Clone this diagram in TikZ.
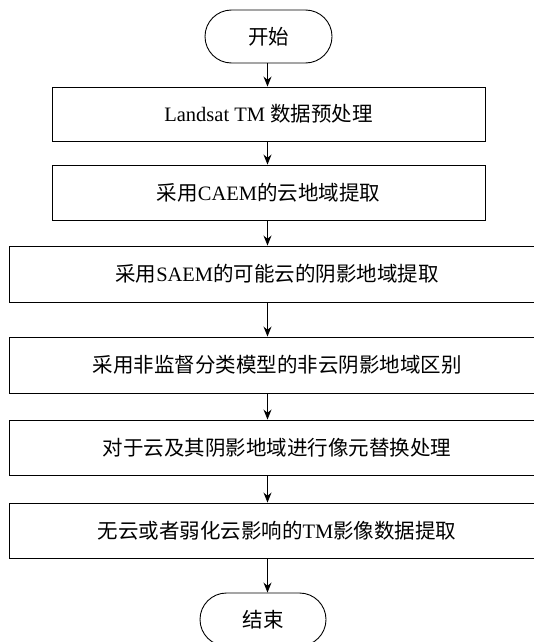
\documentclass[tikz,border=0pt]{standalone}
\usepackage{fontspec}
\setmainfont{Liberation Serif}
\newfontfamily\cjk{Noto Sans CJK SC}
\usetikzlibrary{arrows.meta,shapes.misc}
\tikzset{
  box/.style={draw=black, line width=0.9pt, rectangle, inner sep=0pt, font=\fontsize{20.5}{24}\selectfont},
  term/.style={draw=black, line width=0.9pt, rounded rectangle, inner sep=0pt, font=\fontsize{20.5}{24}\selectfont},
  arr/.style={line width=0.9pt, -{Stealth[length=10pt,width=8pt]}}
}
\begin{document}
\begin{tikzpicture}[x=1pt,y=-1pt]
\useasboundingbox (0,0) rectangle (534,642);
\clip (0,0) rectangle (534,642);
\coordinate (ax) at (267.5,0);
\node[term, minimum width=127, minimum height=53] (start) at (268.5,36.5) {\cjk 开始};
\node[box, minimum width=433, minimum height=54] (b1) at (268.5,114) {Landsat TM {\cjk 数据预处理}};
\node[box, minimum width=433, minimum height=55] (b2) at (268.5,192.5) {{\cjk 采用}CAEM{\cjk 的云地域提取}};
\node[box, minimum width=536, minimum height=56] (b3) at (277,274) {{\cjk 采用}SAEM{\cjk 的可能云的阴影地域提取}};
\node[box, minimum width=536, minimum height=56] (b4) at (277,365) {\cjk 采用非监督分类模型的非云阴影地域区别};
\node[box, minimum width=536, minimum height=55] (b5) at (277,447.5) {\cjk 对于云及其阴影地域进行像元替换处理};
\node[box, minimum width=536, minimum height=55] (b6) at (277,530.5) {{\cjk 无云或者弱化云影响的}TM{\cjk 影像数据提取}};
\node[term, minimum width=126, minimum height=53] (end) at (263,619.5) {\cjk 结束};
\draw[arr] (start.south -| ax) -- (b1.north -| ax);
\draw[arr] (b1.south -| ax) -- (b2.north -| ax);
\draw[arr] (b2.south -| ax) -- (b3.north -| ax);
\draw[arr] (b3.south -| ax) -- (b4.north -| ax);
\draw[arr] (b4.south -| ax) -- (b5.north -| ax);
\draw[arr] (b5.south -| ax) -- (b6.north -| ax);
\draw[arr] (b6.south -| ax) -- (end.north -| ax);
\end{tikzpicture}
\end{document}
